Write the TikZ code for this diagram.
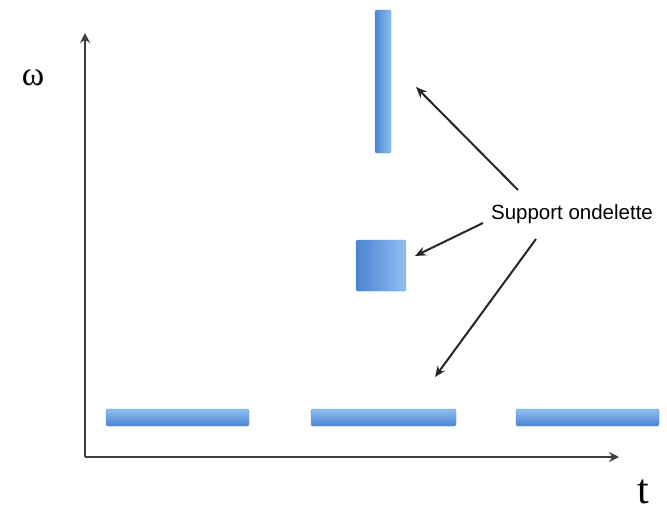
\documentclass[tikz,border=0pt]{standalone}
\usepackage{fontspec}
\newfontfamily\labelfont{Liberation Sans}
\newfontfamily\axisfont{Liberation Serif}
\usepackage{tikz}
\usetikzlibrary{arrows.meta,positioning}
\definecolor{suppdark}{HTML}{4A84D2}
\definecolor{supplight}{HTML}{90BEF2}
\definecolor{suppedge}{HTML}{5A8ED0}

\begin{document}
\begin{tikzpicture}[x=1pt, y=-1pt,
  supp/.style={draw=suppedge, rounded corners=1.5pt, inner sep=0pt, outer sep=0pt},
  vsupp/.style={supp, left color=suppdark, right color=supplight},
  hsupp/.style={supp, top color=supplight, bottom color=suppdark},
  axis/.style={-{Stealth[length=10pt,width=10pt]}, line width=2.8pt, black!75},
  arr/.style={-{Stealth[length=11pt,width=9pt]}, line width=2pt, black!85}
]
\useasboundingbox (0,0) rectangle (667,515);

% axes
\coordinate (o) at (85,457);
\coordinate (ytop) at (85,33);
\coordinate (xend) at (619,457);
\draw[axis] (o) -- (ytop);
\draw[axis] (o) -- (xend);
\node (w) at (33,78) {\axisfont\fontsize{34}{34}\selectfont ω};
\node (t) at (643,492) {\axisfont\fontsize{42}{42}\selectfont t};

% supports
\node[vsupp, minimum width=16pt, minimum height=143pt] (tall) at (383,81.5) {};
\node[vsupp, minimum width=50pt, minimum height=51pt] (sq) at (381,265.5) {};
\node[hsupp, minimum width=143pt, minimum height=17pt] (b1) at (177.5,417.5) {};
\node[hsupp, minimum width=145pt, minimum height=17pt] (b2) at (383.5,417.5) {};
\node[hsupp, minimum width=143pt, minimum height=17pt] (b3) at (587.5,417.5) {};

% label and arrows
\node[font=\labelfont\fontsize{20.5}{20.5}\selectfont, inner sep=0pt] (lab) at (572,214) {Support ondelette};
\coordinate (p1) at (416,87);
\coordinate (p2) at (415,256);
\coordinate (p3) at (435,377);
\draw[arr] (518,190) -- (p1);
\draw[arr] (483,223) -- (p2);
\draw[arr] (536,239) -- (p3);
\end{tikzpicture}
\end{document}
